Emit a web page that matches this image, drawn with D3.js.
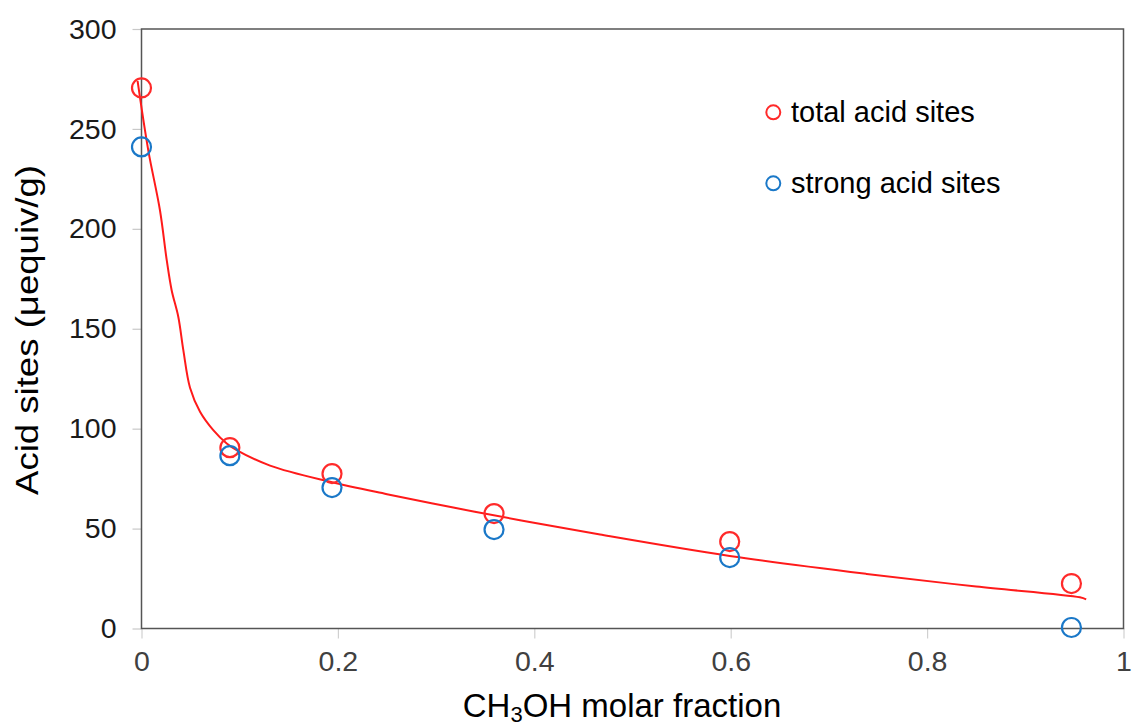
<!DOCTYPE html>
<html>
<head>
<meta charset="utf-8">
<script src="https://cdn.jsdelivr.net/npm/d3@7"></script>
<style>
  html, body { margin: 0; padding: 0; background: #fff; }
  svg { display: block; font-family: "Liberation Sans", Arial, sans-serif; }
</style>
</head>
<body>
<svg id="chart" width="1132" height="728"></svg>
<script>
// Methanol molar fraction of the samples
const fractions = [0, 0.09, 0.194, 0.359, 0.599, 0.947];
// Total acid sites (μequiv/g)
const totalSites = [270.5, 90.5, 77.5, 57.5, 43.5, 22.5];
// Strong acid sites (μequiv/g)
const strongSites = [241, 86.5, 70.5, 49.5, 35.5, 0.5];

// Smoothed trend line through the total acid sites
const trendX = [-0.004, 0.0069, 0.0188, 0.0257, 0.0307, 0.0375, 0.0426, 0.0494, 0.0596, 0.0731, 0.0868, 0.0969, 0.1309, 0.192, 0.25, 0.3175, 0.3854, 0.467, 0.599, 0.7385, 0.85, 0.9556, 0.962];
const trendY = [274, 239.3, 209.3, 184.3, 169.3, 155.9, 139.3, 120.5, 108.5, 99.3, 92.6, 89.3, 81.5, 73.4, 67.2, 60.5, 54.2, 47, 36.3, 27.3, 21, 15.6, 14.6];

const xTicks = [0, 0.2, 0.4, 0.6, 0.8, 1];
const yTicks = [0, 50, 100, 150, 200, 250, 300];

const legendLabels = ["total acid sites", "strong acid sites"];
const colors = { total: "#ff2a2a", strong: "#1a78c8" };

const svg = d3.select("#chart");
const plot = { left: 141.5, right: 1123.5, top: 29, bottom: 628.5 };

const x = d3.scaleLinear().domain([0, 1]).range([plot.left, plot.right]);
const y = d3.scaleLinear().domain([0, 300]).range([plot.bottom, plot.top]);

// Y axis ticks and labels
const yAxis = svg.append("g").attr("transform", `translate(${plot.left},0)`)
  .call(d3.axisLeft(y).tickValues(yTicks).tickSize(9).tickPadding(16).tickFormat(d3.format("d")));
yAxis.select(".domain").remove();
yAxis.selectAll(".tick line").attr("stroke", "#c8c8c8").attr("stroke-width", 1.2);
yAxis.selectAll(".tick text").attr("font-size", 28.5).attr("fill", "#1a1a1a")
  .attr("font-family", "Liberation Sans, Arial, sans-serif");

// X axis ticks and labels
const xAxis = svg.append("g").attr("transform", `translate(0,${plot.bottom})`)
  .call(d3.axisBottom(x).tickValues(xTicks).tickSize(10).tickPadding(12)
    .tickFormat(d => d === 0 || d === 1 ? String(d) : d3.format(".1f")(d)));
xAxis.select(".domain").remove();
xAxis.selectAll(".tick line").attr("stroke", "#d0d0d0").attr("stroke-width", 1.2);
xAxis.selectAll(".tick text").attr("font-size", 28.5).attr("fill", "#404040")
  .attr("font-family", "Liberation Sans, Arial, sans-serif");

// Plot area frame
svg.append("rect")
  .attr("x", plot.left).attr("y", plot.top)
  .attr("width", plot.right - plot.left).attr("height", plot.bottom - plot.top)
  .attr("fill", "none").attr("stroke", "#555").attr("stroke-width", 1.5);

// Trend line
const trend = trendX.map((v, i) => [v, trendY[i]]);
svg.append("path")
  .datum(trend)
  .attr("fill", "none")
  .attr("stroke", "#ff1a1a")
  .attr("stroke-width", 2)
  .attr("d", d3.line().x(d => x(d[0])).y(d => y(d[1])).curve(d3.curveCatmullRom.alpha(0.5)));

// Data markers
function drawMarkers(values, color) {
  svg.append("g").selectAll("circle")
    .data(fractions.map((f, i) => [f, values[i]]))
    .join("circle")
    .attr("cx", d => x(d[0])).attr("cy", d => y(d[1]))
    .attr("r", 9.5)
    .attr("fill", "none")
    .attr("stroke", color)
    .attr("stroke-width", 2.2);
}
drawMarkers(totalSites, colors.total);
drawMarkers(strongSites, colors.strong);

// Legend
const legend = svg.append("g");
[colors.total, colors.strong].forEach((c, i) => {
  const cy = 112.3 + i * 71;
  legend.append("circle").attr("cx", 773.3).attr("cy", cy).attr("r", 7)
    .attr("fill", "none").attr("stroke", c).attr("stroke-width", 2);
  legend.append("text").attr("x", 791).attr("y", cy + 9.5)
    .attr("font-size", 29).attr("fill", "#000").text(legendLabels[i]);
});

// Axis titles
const xTitle = svg.append("text").attr("x", 622).attr("y", 717)
  .attr("text-anchor", "middle").attr("font-size", 33).attr("fill", "#000");
xTitle.append("tspan").text("CH");
xTitle.append("tspan").attr("font-size", 22).attr("dy", 5).text("3");
xTitle.append("tspan").attr("dy", -5).text("OH molar fraction");

svg.append("text")
  .attr("transform", "translate(38,330) rotate(-90)")
  .attr("text-anchor", "middle").attr("font-size", 32).attr("fill", "#000")
  .attr("textLength", 330).attr("lengthAdjust", "spacingAndGlyphs")
  .text("Acid sites (μequiv/g)");
</script>
</body>
</html>
